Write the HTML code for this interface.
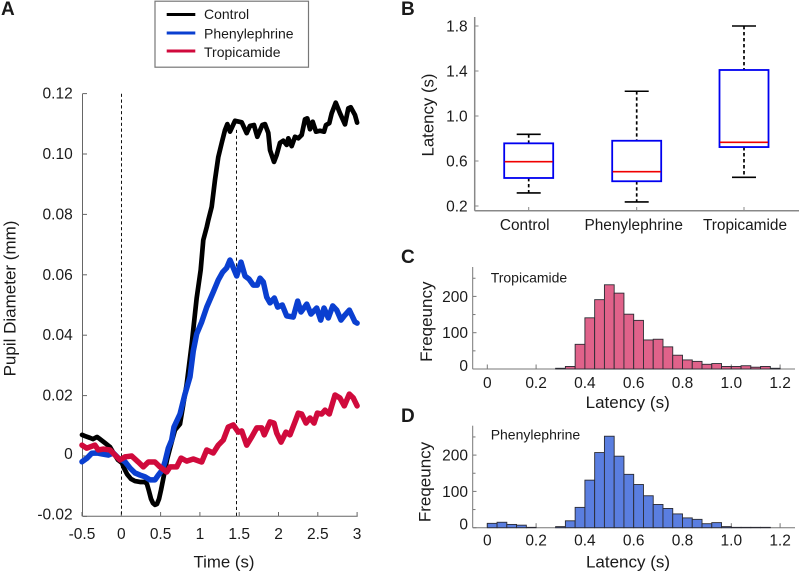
<!DOCTYPE html>
<html lang="en">
<head>
<meta charset="utf-8">
<title>Pupil diameter and latency</title>
<style>
html,body{margin:0;padding:0;background:#fff;}
svg{display:block;}
text{font-family:"Liberation Sans",sans-serif;fill:#1a1a1a;}
</style>
</head>
<body>
<svg id="fig" width="800" height="574" viewBox="0 0 800 574" xmlns="http://www.w3.org/2000/svg">
  <rect width="800" height="574" fill="#fff"/>
  <text x="1" y="15" font-size="19" font-weight="bold" fill="#111">A</text>
  <text x="401" y="15" font-size="19" font-weight="bold" fill="#111">B</text>
  <text x="401" y="263" font-size="19" font-weight="bold" fill="#111">C</text>
  <text x="401" y="422" font-size="19" font-weight="bold" fill="#111">D</text>

  <g>
    <rect x="155" y="1.2" width="153.5" height="66" fill="#fff" stroke="#777" stroke-width="1.2"/>
    <line x1="166.7" x2="195.3" y1="14.5" y2="14.5" stroke="#000" stroke-width="3"/>
    <line x1="166.7" x2="195.3" y1="33" y2="33" stroke="#0a3fd0" stroke-width="3"/>
    <line x1="166.7" x2="195.3" y1="51" y2="51" stroke="#d00a3c" stroke-width="3"/>
    <text x="204" y="19" font-size="14">Control</text>
    <text x="204" y="38.5" font-size="14">Phenylephrine</text>
    <text x="204" y="57" font-size="14">Tropicamide</text>
  </g>

  <g id="panelA"></g>
  <g id="panelB"></g>
  <g id="panelC"></g>
  <g id="panelD"></g>

  <text transform="translate(15.5,298.5) rotate(-90)" text-anchor="middle" font-size="17">Pupil Diameter (mm)</text>
  <text x="224" y="567.5" text-anchor="middle" font-size="16.8">Time (s)</text>
  <text transform="translate(433.3,115) rotate(-90)" text-anchor="middle" font-size="16.8">Latency (s)</text>
  <text transform="translate(432,321.7) rotate(-90)" text-anchor="middle" font-size="17">Freqeuncy</text>
  <text x="627.7" y="408" text-anchor="middle" font-size="17">Latency (s)</text>
  <text x="490.7" y="282.3" font-size="14">Tropicamide</text>
  <text transform="translate(430.5,482) rotate(-90)" text-anchor="middle" font-size="17">Freqeuncy</text>
  <text x="628" y="567.3" text-anchor="middle" font-size="17">Latency (s)</text>
  <text x="490.7" y="439.3" font-size="14">Phenylephrine</text>
</svg>
<script>
// ---- Panel A data ----
const controlT = [-0.5,-0.462,-0.398,-0.36,-0.309,-0.271,-0.207,-0.144,-0.106,-0.067,-0.042,0.009,0.034,0.073,0.123,0.174,0.238,0.302,0.327,0.352,0.378,0.403,0.429,0.454,0.48,0.505,0.531,0.556,0.581,0.62,0.658,0.683,0.747,0.832,0.896,0.959,1.01,1.043,1.087,1.107,1.15,1.192,1.234,1.277,1.319,1.349,1.383,1.447,1.532,1.595,1.637,1.688,1.73,1.794,1.828,1.87,1.892,1.943,1.977,2.019,2.061,2.104,2.125,2.168,2.21,2.252,2.295,2.337,2.366,2.401,2.435,2.477,2.528,2.579,2.604,2.646,2.677,2.728,2.782,2.846,2.888,2.919,2.973,3.0];
const controlV = [0.007,0.0066,0.006,0.0056,0.0063,0.0056,0.0043,0.003,0.0013,-0.0003,-0.0013,-0.0023,-0.004,-0.006,-0.0076,-0.0083,-0.0086,-0.0086,-0.0093,-0.0116,-0.0142,-0.0156,-0.0162,-0.0159,-0.0142,-0.0113,-0.0079,-0.0046,-0.0013,0.0026,0.0063,0.0086,0.0106,0.0238,0.0371,0.0523,0.0616,0.0715,0.0758,0.0781,0.0825,0.0914,0.099,0.1036,0.1079,0.1099,0.1074,0.111,0.1105,0.1069,0.1093,0.1096,0.1057,0.1096,0.1099,0.107,0.1013,0.0974,0.0997,0.1037,0.1044,0.103,0.1052,0.1026,0.1057,0.1052,0.1063,0.1115,0.1118,0.1082,0.1107,0.1074,0.1077,0.1074,0.1096,0.1102,0.1135,0.117,0.1135,0.1098,0.1151,0.1155,0.1129,0.1104];
const pheT = [-0.5,-0.44,-0.377,-0.313,-0.249,-0.165,-0.102,-0.038,0.047,0.111,0.174,0.238,0.302,0.365,0.429,0.471,0.522,0.556,0.598,0.641,0.67,0.747,0.81,0.874,0.916,0.959,1.023,1.087,1.17,1.234,1.29,1.341,1.383,1.425,1.468,1.523,1.574,1.625,1.679,1.73,1.765,1.807,1.85,1.892,1.947,1.99,2.048,2.104,2.188,2.244,2.286,2.359,2.413,2.486,2.537,2.579,2.634,2.69,2.741,2.795,2.837,2.901,2.931,2.973,3.0];
const pheV = [-0.0019,-0.0008,0.0009,0.001,0.0007,0.0003,0.001,-0.0007,-0.0019,-0.004,-0.0056,-0.0063,-0.0069,-0.0079,-0.0079,-0.0063,-0.0046,-0.0019,0.0026,0.0053,0.0096,0.0139,0.0205,0.0262,0.0348,0.0404,0.0444,0.0493,0.0543,0.0583,0.0609,0.0623,0.0649,0.0623,0.0596,0.0642,0.0596,0.0586,0.0566,0.0566,0.0589,0.0576,0.0526,0.0507,0.0523,0.0493,0.05,0.0464,0.046,0.0513,0.0477,0.0503,0.047,0.049,0.045,0.049,0.0457,0.0497,0.0483,0.045,0.0464,0.0483,0.0467,0.0444,0.044];
const tropT = [-0.5,-0.44,-0.398,-0.335,-0.293,-0.229,-0.144,-0.08,-0.017,0.047,0.132,0.216,0.28,0.344,0.429,0.492,0.578,0.62,0.705,0.76,0.832,0.916,1.023,1.087,1.17,1.234,1.298,1.361,1.425,1.489,1.532,1.595,1.659,1.723,1.786,1.819,1.892,1.943,1.977,2.032,2.095,2.146,2.21,2.252,2.295,2.35,2.401,2.452,2.494,2.55,2.592,2.646,2.719,2.782,2.837,2.901,2.952,3.0];
const tropV = [0.0036,0.0026,0.003,0.0036,0.002,0.0023,0.002,0.0003,-0.0013,-0.0003,0,-0.002,-0.0036,-0.002,-0.002,-0.0036,-0.0053,-0.0036,-0.0036,-0.0007,-0.0017,-0.001,-0.002,0.002,0.001,0.0036,0.0053,0.0096,0.0103,0.0079,0.0083,0.0036,0.0063,0.0093,0.0093,0.007,0.0113,0.0109,0.0076,0.0046,0.0079,0.007,0.0113,0.0142,0.0139,0.0109,0.0126,0.0109,0.0142,0.0139,0.0152,0.0139,0.0202,0.0192,0.0166,0.0205,0.0192,0.0166];
const eventTimes = [0, 1.46];
const aYTicks = [0.12,0.10,0.08,0.06,0.04,0.02,0,-0.02];
const aYLabels = ['0.12','0.10','0.08','0.06','0.04','0.02','0','-0.02'];
const aXTicks = [-0.5,0,0.5,1,1.5,2,2.5,3];
const aXLabels = ['-0.5','0','0.5','1','1.5','2','2.5','3'];

// ---- Panel B data ----
const boxCategories = ['Control','Phenylephrine','Tropicamide'];
const boxLow = [0.316,0.236,0.455];
const boxQ1 = [0.449,0.42,0.724];
const boxMedian = [0.594,0.505,0.766];
const boxQ3 = [0.757,0.78,1.409];
const boxHigh = [0.837,1.22,1.8];
const bYTicks = [0.2,0.6,1.0,1.4,1.8];
const bYLabels = ['0.2','0.6','1.0','1.4','1.8'];

// ---- Panels C and D data ----
const binWidth = 0.04;
const tropCounts = [0,0,0,0,0,0,0,2,7,68,141,191,232,209,151,134,80,82,61,38,25,21,13,15,7,7,9,5,7,2];
const pheCounts = [12,15,9,7,1,0,0,3,19,56,131,207,252,197,147,119,88,64,53,38,27,23,11,14,3,1,1,1,1,0];
const histXTicks = [0,0.2,0.4,0.6,0.8,1.0,1.2];
const histXLabels = ['0','0.2','0.4','0.6','0.8','1.0','1.2'];
const histYMajor = [0,100,200];
const histYLabels = ['0','100','200'];
const histYMinor = [50,150,250];

// ---- Axis functions ----
const xA = t => 121.3 + t * 78.6;
const yA = v => 456 - v * 3020;
const yB = v => 206 - (v - 0.2) * 112.5;
const xH = v => 487.3 + v * 244;
const yCount = (base, c) => base - c * 0.363;

const NS = 'http://www.w3.org/2000/svg';
function mk(parent, tag, attrs, txt) {
  const el = document.createElementNS(NS, tag);
  for (const k in attrs) el.setAttribute(k, attrs[k]);
  if (txt !== undefined) el.textContent = txt;
  parent.appendChild(el);
  return el;
}

// ---- Panel A ----
const pa = document.getElementById('panelA');
let a1 = mk(pa, 'line', {x1:82.5,x2:82.5,y1:93.7,y2:516.3,stroke:'#666','stroke-width':1});


let a2 = mk(pa, 'line', {x1:82.5,x2:357.7,y1:516.3,y2:516.3,stroke:'#666','stroke-width':1});


aYTicks.forEach((v, i) => {
  const t = mk(pa, 'line', {x1:82.5,x2:87,y1:yA(v),y2:yA(v),stroke:'#666','stroke-width':1});
  
  
  const l = mk(pa, 'text', {x:72.7,y:yA(v)+(v<=0?3:5),'text-anchor':'end','font-size':15.5}, aYLabels[i]);
  
  
});
aXTicks.forEach((v, i) => {
  const t = mk(pa, 'line', {x1:xA(v),x2:xA(v),y1:516.3,y2:512,stroke:'#666','stroke-width':1});
  
  
  const l = mk(pa, 'text', {x:xA(v),y:539,'text-anchor':'middle','font-size':15.5}, aXLabels[i]);
  
  
});
eventTimes.forEach((t, i) => {
  const px = Math.floor(xA(t)) + 0.5;
  const d = mk(pa, 'line', {x1:px,x2:px,y1:i===0?93.7:yA(0.108),y2:516.3,stroke:'#111','stroke-width':1,'stroke-dasharray':'3.2 2.6'});
  
  
});
function drawSeries(ts, vs, color, width) {
  const d = ts.map((t, i) => (i ? 'L' : 'M') + xA(t).toFixed(2) + ' ' + yA(vs[i]).toFixed(2)).join(' ');
  return mk(pa, 'path', {d:d,fill:'none',stroke:color,'stroke-width':width,'stroke-linejoin':'round','stroke-linecap':'round'});
}
const sControl = drawSeries(controlT, controlV, '#000', 4.7);


const sPhe = drawSeries(pheT, pheV, '#0a3fd0', 5.5);


const sTrop = drawSeries(tropT, tropV, '#d00a3c', 5.5);



// ---- Panel B ----
const pb = document.getElementById('panelB');
const bCenters = [528.7, 636.7, 744];
let b1 = mk(pb, 'line', {x1:474.7,x2:474.7,y1:17,y2:210.7,stroke:'#888','stroke-width':1.5});


let b2 = mk(pb, 'line', {x1:474.7,x2:799,y1:210.7,y2:210.7,stroke:'#888','stroke-width':1.5});


bYTicks.forEach((v, i) => {
  const t = mk(pb, 'line', {x1:474.7,x2:478.5,y1:yB(v),y2:yB(v),stroke:'#888','stroke-width':1});
  
  
  const l = mk(pb, 'text', {x:467.7,y:yB(v)+5.5,'text-anchor':'end','font-size':15.5}, bYLabels[i]);
  
  
});
boxCategories.forEach((c, i) => {
  const cx = bCenters[i];
  const t = mk(pb, 'line', {x1:cx,x2:cx,y1:210.7,y2:207,stroke:'#888','stroke-width':1});
  
  
  const l = mk(pb, 'text', {x:cx-(i===0?4:i===1?3:-1),y:230,'text-anchor':'middle','font-size':15.4}, c);
  
  
  const w1 = mk(pb, 'line', {x1:cx,x2:cx,y1:yB(boxHigh[i]),y2:yB(boxQ3[i]),stroke:'#000','stroke-width':1.7,'stroke-dasharray':'3.4 2.6'});
  
  
  const w2 = mk(pb, 'line', {x1:cx,x2:cx,y1:yB(boxQ1[i]),y2:yB(boxLow[i]),stroke:'#000','stroke-width':1.7,'stroke-dasharray':'3.4 2.6'});
  
  
  const c1 = mk(pb, 'line', {x1:cx-12,x2:cx+12,y1:yB(boxHigh[i]),y2:yB(boxHigh[i]),stroke:'#000','stroke-width':1.6});
  
  
  const c2 = mk(pb, 'line', {x1:cx-12,x2:cx+12,y1:yB(boxLow[i]),y2:yB(boxLow[i]),stroke:'#000','stroke-width':1.6});
  
  
  const r = mk(pb, 'rect', {x:cx-24.5,y:yB(boxQ3[i]),width:49,height:yB(boxQ1[i])-yB(boxQ3[i]),fill:'#fff',stroke:'#0000f0','stroke-width':1.8});
  
  
  const m = mk(pb, 'line', {x1:cx-24,x2:cx+24,y1:yB(boxMedian[i]),y2:yB(boxMedian[i]),stroke:'#f00000','stroke-width':1.7});
  
  
});

// ---- Panels C and D ----
function drawHist(group, counts, base, top, tickBaseline, fill) {
  const yAx = mk(group, 'line', {x1:472.7,x2:472.7,y1:top,y2:base,stroke:'#777','stroke-width':1});
  
  
  const xAx = mk(group, 'line', {x1:472.7,x2:795,y1:base,y2:base,stroke:'#777','stroke-width':1});
  
  
  histYMajor.forEach((v, i) => {
    const t = mk(group, 'line', {x1:472.7,x2:476.5,y1:yCount(base, v),y2:yCount(base, v),stroke:'#777','stroke-width':1});
    
    
    const l = mk(group, 'text', {x:468,y:yCount(base, v)+(v===0?2:5.5),'text-anchor':'end','font-size':15.5}, histYLabels[i]);
    
    
  });
  histYMinor.forEach(v => {
    const t = mk(group, 'line', {x1:472.7,x2:475.5,y1:yCount(base, v),y2:yCount(base, v),stroke:'#777','stroke-width':1});
    
    
  });
  histXTicks.forEach((v, i) => {
    const t = mk(group, 'line', {x1:xH(v),x2:xH(v),y1:base,y2:base-4.5,stroke:'#777','stroke-width':1});
    
    
    const l = mk(group, 'text', {x:xH(v),y:tickBaseline,'text-anchor':'middle','font-size':15.5}, histXLabels[i]);
    
    
  });
  counts.forEach((c, i) => {
    if (c <= 0) return;
    const x0 = xH(i * binWidth), x1 = xH((i + 1) * binWidth);
    const b = mk(group, 'rect', {x:x0,y:yCount(base, c),width:x1-x0,height:base-yCount(base, c),fill:fill,stroke:'#2b2b33','stroke-width':0.9});
    
    
  });
}
drawHist(document.getElementById('panelC'), tropCounts, 369, 267, 388, '#e0628a');
drawHist(document.getElementById('panelD'), pheCounts, 527.7, 425.7, 545.7, '#5a7ee0');
</script>
</body>
</html>
